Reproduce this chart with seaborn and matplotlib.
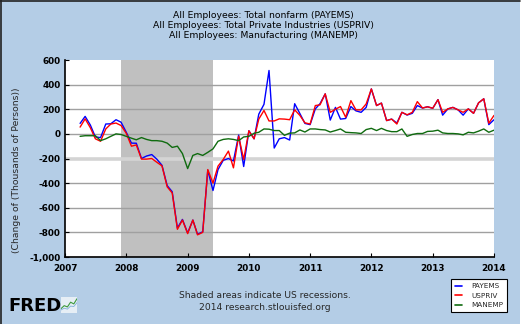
import numpy as np
import pandas as pd
import matplotlib
matplotlib.use("Agg")
import matplotlib.pyplot as plt
from matplotlib.lines import Line2D
from matplotlib.patches import Rectangle
import seaborn as sns

# Monthly change in employment, thousands of persons (Apr 2007 - Jan 2014)
months = pd.date_range("2007-04-01", "2014-01-01", freq="MS")

payems = [
    85, 142, 72, -25, -30, 80, 82, 115, 95,
    14, -75, -76, -200, -180, -168, -205, -255, -420, -470, -765, -695,
    -805, -700, -815, -795, -295, -460, -290, -215, -200, -220, -10, -265,
    25, -40, 160, 240, 515, -115, -40, -30, -50, 245, 165, 85,
    75, 203, 245, 325, 112, 215, 120, 125, 222, 187, 175, 215,
    365, 230, 250, 108, 120, 88, 175, 153, 167, 230, 210, 220,
    208, 278, 152, 203, 215, 195, 152, 203, 167, 252, 285, 75,
    115,
]
uspriv = [
    55, 122, 50, -40, -60, 40, 80, 88, 68,
    5, -100, -90, -205, -205, -200, -230, -260, -430, -480, -775, -700,
    -810, -700, -820, -800, -290, -400, -262, -208, -140, -276, -19, -208,
    25, -40, 120, 190, 105, 105, 122, 120, 115, 195, 150, 90,
    80, 230, 236, 325, 175, 200, 222, 135, 270, 195, 195, 243,
    365, 230, 250, 108, 120, 80, 175, 155, 175, 262, 210, 220,
    208, 278, 175, 203, 215, 195, 175, 203, 167, 252, 285, 87,
    150,
]
manemp = [
    -20, -15, -15, -15, -55, -40, -20, 0, -5,
    -20, -35, -48, -30, -45, -55, -55, -60, -75, -110, -100, -160,
    -282, -175, -160, -175, -150, -122, -60, -45, -40, -45, -55, -25,
    -20, 5, 13, 40, 38, 27, 27, -12, 6, 8, 32, 15,
    40, 40, 35, 32, 15, 27, 40, 13, 10, 8, 3, 35,
    45, 27, 45, 27, 18, 18, 40, -20, -5, 3, 3, 20,
    22, 30, 8, 3, 3, 0, -8, 13, 8, 22, 40, 13,
    30,
]

series_names = ["PAYEMS", "USPRIV", "MANEMP"]
series_colors = ["#0000ff", "#ff0000", "#0f6b0f"]
title_lines = [
    "All Employees: Total nonfarm (PAYEMS)",
    "All Employees: Total Private Industries (USPRIV)",
    "All Employees: Manufacturing (MANEMP)",
]
recession = ("2007-12-01", "2009-06-01")
y_ticks = [-1000, -800, -600, -400, -200, 0, 200, 400, 600]
x_years = list(range(2007, 2015))

df = pd.concat(
    [
        pd.DataFrame({"date": months, "change": payems, "series": "PAYEMS"}),
        pd.DataFrame({"date": months, "change": uspriv, "series": "USPRIV"}),
        pd.DataFrame({"date": months, "change": manemp, "series": "MANEMP"}),
    ],
    ignore_index=True,
)

sns.set_theme(style="white")
plt.rcParams["font.family"] = ["DejaVu Sans"]

W, H = 527, 324
bg = "#b4cde6"
fig = plt.figure(figsize=(W / 100, H / 100), dpi=100, facecolor="white")

# page background: blue panel with a dark rule along the left and top edges
fig.patches.append(Rectangle((0, 0), 520 / W, 1, transform=fig.transFigure,
                             facecolor=bg, edgecolor="none", zorder=-10))
fig.add_artist(Line2D([0.5 / W, 0.5 / W], [0, 1], transform=fig.transFigure,
                      color="#222222", lw=1.2))
fig.add_artist(Line2D([0, 520 / W], [1 - 0.5 / H, 1 - 0.5 / H],
                      transform=fig.transFigure, color="#222222", lw=1.2))

ax = fig.add_axes([65 / W, 67 / H, 429 / W, 197 / H])
ax.set_facecolor("white")

# recession band
ax.axvspan(pd.Timestamp(recession[0]), pd.Timestamp(recession[1]),
           color="#c0c0c0", lw=0, zorder=0)

sns.lineplot(data=df, x="date", y="change", hue="series",
             hue_order=series_names, palette=series_colors,
             linewidth=1.0, ax=ax, legend=False, zorder=3)

ax.set_xlim(pd.Timestamp("2007-01-01"), pd.Timestamp("2014-01-01"))
ax.set_ylim(-1000, 600)
ax.set_yticks(y_ticks)
ax.set_yticklabels([f"{v:,}" for v in y_ticks])
ax.set_xticks([pd.Timestamp(f"{y}-01-01") for y in x_years])
ax.set_xticklabels([str(y) for y in x_years])

ax.yaxis.grid(True, color="#a0a0a0", linewidth=1.0, zorder=1)
ax.set_axisbelow(True)
for gl, v in zip(ax.get_ygridlines(), y_ticks):
    if v == -200:
        gl.set_color("#d4d4d4")
        gl.set_linewidth(2.6)
    if v == 600:
        gl.set_visible(False)

for side in ["top", "right"]:
    ax.spines[side].set_visible(False)
for side in ["left", "bottom"]:
    ax.spines[side].set_color("black")
    ax.spines[side].set_linewidth(1.2)

ax.tick_params(axis="both", direction="in", length=3, width=0.8,
               colors="black", labelsize=6.4, pad=3,
               left=True, bottom=True)
ax.tick_params(axis="x", pad=5)
for lab in ax.get_xticklabels() + ax.get_yticklabels():
    lab.set_fontweight("bold")
ax.set_xlabel("")
ax.set_ylabel("(Change of (Thousands of Persons))", fontsize=6.7)
ax.yaxis.set_label_coords(-44 / 429, 0.44)

# title block
for i, line in enumerate(title_lines):
    fig.text(263 / W, 1 - (15 + 10.5 * i) / H, line, ha="center",
             va="center", fontsize=6.7, color="black")

# footer
fig.text(265 / W, 1 - 296 / H, "Shaded areas indicate US recessions.",
         ha="center", va="center", fontsize=6.6)
fig.text(265 / W, 1 - 307 / H, "2014 research.stlouisfed.org",
         ha="center", va="center", fontsize=6.6)

# FRED wordmark
fig.text(8 / W, 1 - 306 / H, "FRED", ha="left", va="center",
         fontsize=13, fontweight="bold", color="black")
icon = fig.add_axes([61 / W, 1 - 313 / H, 16 / W, 16 / H])
icon.set_facecolor("#e6eef5")
icon.set_xticks([])
icon.set_yticks([])
for s in icon.spines.values():
    s.set_visible(False)
icon.plot([0, 1, 2, 3, 4, 5], [0.5, 1.2, 0.9, 2.0, 1.6, 2.8], color="#3c9a3c", lw=0.8)
icon.plot([0, 1, 2, 3, 4, 5], [0.2, 0.6, 0.4, 1.1, 1.0, 1.9], color="#7fb0d8", lw=0.6)
icon.set_xlim(0, 5)
icon.set_ylim(-0.5, 3.2)

# legend
handles = [Line2D([0], [0], color=c, lw=1.2) for c in series_colors]
leg = fig.legend(handles, series_names, loc="lower right",
                 bbox_to_anchor=(511 / W, 1 - 316 / H),
                 frameon=True, fontsize=5.2, handlelength=1.0,
                 handletextpad=1.2, borderpad=0.6, labelspacing=0.45,
                 fancybox=False, edgecolor="black", framealpha=1)
leg.get_frame().set_linewidth(0.8)

fig.savefig("out.png", dpi=100, facecolor="white")
